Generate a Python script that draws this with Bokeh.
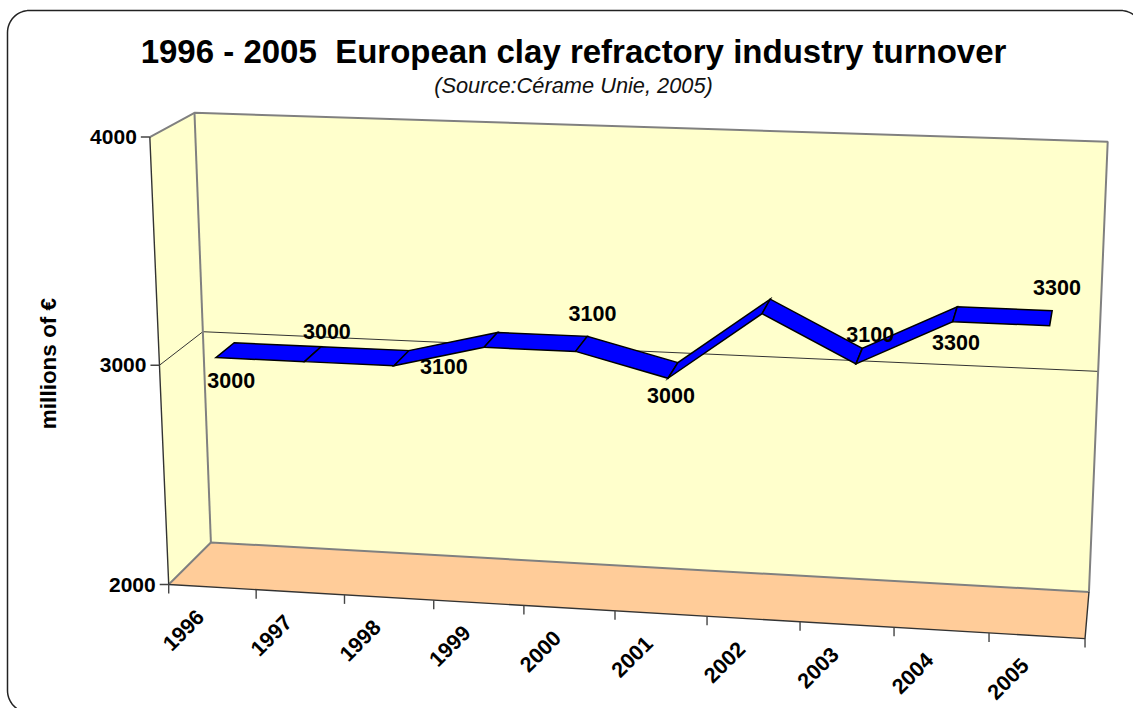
import numpy as np
from bokeh.plotting import figure
from bokeh.embed import file_html
from bokeh.resources import INLINE
from bokeh.core.properties import value
from bokeh.models import Range1d

# ---- data ----
years = [1996, 1997, 1998, 1999, 2000, 2001, 2002, 2003, 2004, 2005]
turnover = [3000, 3000, 3000, 3100, 3100, 3000, 3300, 3100, 3300, 3300]
labelled_years = [1996, 1997, 1999, 2000, 2001, 2003, 2004, 2005]
value_ticks = [2000, 3000, 4000]
title = "1996 - 2005\u00a0 European clay refractory industry turnover"
subtitle = "(Source:Cérame Unie, 2005)"
axis_title = "millions of €"

# ---- layout ----
W, H = 1133, 708
FONT = value("Liberation Sans")
WALL, FLOOR, RIBBON = "#FFFFCC", "#FFCC99", "#0000FF"
EDGE, INK = "#808080", "#111111"
# camera fitted to the chart's box corners: (u, v, w) -> page pixels
CAM = np.array([[0.8615147789363649, -0.02472866409089878, 0.0513927025029662, 0.1682143780568678],
                [0.021856840538500198, -0.45279792600256097, -0.018366379738245425, 0.5840099089881426],
                [-0.050524698728604864, -0.039144746970153466, 0.04378203139986323, 1.0]])
VMIN, VMAX = value_ticks[0], value_ticks[-1]
NCAT = len(years)
W_FRONT, W_BACK = 0.28, 0.72

def proj(u, val, w):
    h = CAM @ np.array([u, (val - VMIN) / (VMAX - VMIN), w, 1.0])
    return h[0] / h[2] * 1000, h[1] / h[2] * 1000

def cat_u(i):
    return (i + 0.5) / NCAT

p = figure(width=W, height=H, output_backend="svg", toolbar_location=None,
           x_range=Range1d(0, W), y_range=Range1d(H, 0),
           min_border=0, outline_line_color=None, background_fill_color="white")
p.axis.visible = False
p.grid.visible = False
p.styles = {"position": "absolute", "left": "0px", "top": "0px"}

# rounded chart border
L, T, R_, B, RAD = 7, 10, 1142, 712, 22
def arc(cx, cy, a0, a1):
    t = np.radians(np.linspace(a0, a1, 16))
    return list(cx + RAD * np.cos(t)), list(cy + RAD * np.sin(t))
bx, by = [], []
for c in ((L + RAD, T + RAD, 180, 270), (R_ - RAD, T + RAD, 270, 360),
          (R_ - RAD, B - RAD, 0, 90), (L + RAD, B - RAD, 90, 180)):
    ax, ay = arc(*c)
    bx += ax; by += ay
p.patch(bx, by, fill_color="white", line_color="#222222", line_width=1.5)

def poly(corners, fill):
    xs, ys = zip(*[proj(*c) for c in corners])
    p.patch(list(xs), list(ys), fill_color=fill, line_color=None)

def seg(corners, color, width):
    xs, ys = zip(*[proj(*c) for c in corners])
    p.line(list(xs), list(ys), line_color=color, line_width=width)

# walls and floor
poly([(0, VMIN, 0), (0, VMAX, 0), (0, VMAX, 1), (0, VMIN, 1)], WALL)
poly([(0, VMIN, 1), (0, VMAX, 1), (1, VMAX, 1), (1, VMIN, 1)], WALL)
poly([(0, VMIN, 0), (0, VMIN, 1), (1, VMIN, 1), (1, VMIN, 0)], FLOOR)

# gridline at the middle tick
mid = value_ticks[1]
seg([(0, mid, 0), (0, mid, 1), (1, mid, 1)], "#333333", 1)

# box edges
seg([(0, VMAX, 0), (0, VMAX, 1), (1, VMAX, 1), (1, VMIN, 1), (0, VMIN, 1), (0, VMIN, 0)], EDGE, 2)
seg([(0, VMAX, 1), (0, VMIN, 1)], EDGE, 2)
seg([(0, VMAX, 0), (0, VMIN, 0), (1, VMIN, 0), (1, VMIN, 1)], "#333333", 1.4)

# ribbon
for i in range(NCAT - 1):
    a, b = turnover[i], turnover[i + 1]
    ua, ub = cat_u(i), cat_u(i + 1)
    xs, ys = zip(*[proj(ua, a, W_FRONT), proj(ub, b, W_FRONT), proj(ub, b, W_BACK), proj(ua, a, W_BACK)])
    p.patch(list(xs), list(ys), fill_color=RIBBON, line_color="black", line_width=1.5, line_join="miter")

# value axis ticks + labels
for v in value_ticks:
    x, y = proj(0, v, 0)
    p.line([x - 9, x], [y, y], line_color="#444444", line_width=1.4)
    p.text([x - 13], [y], text=[str(v)], text_font=FONT, text_font_style="bold", text_font_size="21px",
           text_align="right", text_baseline="middle", text_color="black")

# category ticks + labels
for i in range(NCAT + 1):
    x, y = proj(i / NCAT, VMIN, 0)
    p.line([x, x], [y, y + 9], line_color="#444444", line_width=1.4)
for i, yr in enumerate(years):
    x, y = proj(cat_u(i), VMIN, 0)
    p.text([x - 29], [y + 43], text=[str(yr)], text_font=FONT, text_font_style="bold", text_font_size="21.5px",
           text_align="center", text_baseline="middle", angle=45, angle_units="deg", text_color="black")

# data labels (offsets from the ribbon's centre line, in pixels)
label_dx = [6, 14, -47, 11, -2, 11, 1, 6]
label_dy = [30, -23, 27, -30, 25, -21.5, 28, -31]
for yr, dx, dy in zip(labelled_years, label_dx, label_dy):
    i = years.index(yr)
    x, y = proj(cat_u(i), turnover[i], 0.5)
    p.text([x + dx], [y + dy], text=[str(turnover[i])], text_font=FONT, text_font_style="bold",
           text_font_size="21.5px", text_align="center", text_baseline="middle", text_color="black")

# titles
p.text([573], [51], text=[title], text_font=FONT, text_font_style="bold", text_font_size="33px",
       text_align="center", text_baseline="middle", text_color="black")
p.text([573], [85], text=[subtitle], text_font=FONT, text_font_style="italic", text_font_size="21.8px",
       text_align="center", text_baseline="middle", text_color="#111111")
p.text([48], [363], text=[axis_title], text_font=FONT, text_font_style="bold", text_font_size="22.5px",
       text_align="center", text_baseline="middle", angle=90, angle_units="deg", text_color="black")

open("out.html", "w").write(file_html(p, INLINE))
